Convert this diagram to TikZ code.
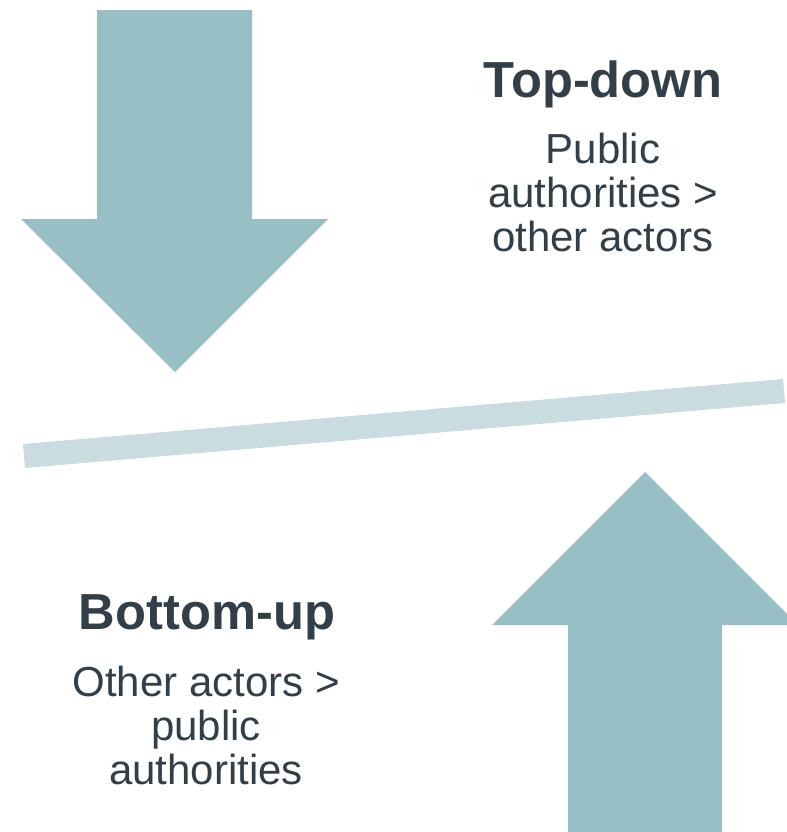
\documentclass[tikz,border=0pt]{standalone}
\usepackage{fontspec}
\setmainfont{Liberation Sans}
\usepackage{tikz}
\usetikzlibrary{positioning}

\definecolor{arrowteal}{HTML}{99BFC6}
\definecolor{barteal}{HTML}{C9DCE0}
\definecolor{slatetext}{HTML}{333F48}

\tikzset{
    bigarrow/.style={fill=arrowteal, draw=none},
    titletext/.style={anchor=base, text=slatetext, inner sep=0pt, font=\fontsize{38}{45}\selectfont\bfseries},
    bodytext/.style={anchor=base, text=slatetext, inner sep=0pt, align=center, font=\fontsize{31.5}{33}\selectfont}
}

\begin{document}
\begin{tikzpicture}[x=0.75pt, y=-0.75pt]
        \useasboundingbox (0,0) rectangle (787,832);
        \clip (0,0) rectangle (787,832);

        \fill[white] (0,0) rectangle (787,832);

        \fill[bigarrow] (97,10) -- (252,10) -- (252,219) -- (328,219) -- (175,372)
            -- (21,219) -- (97,219) -- cycle;

        \draw[barteal, line width=18pt] (24,456) -- (784,391);

        \fill[bigarrow] (645,472) -- (798,625) -- (722,625) -- (722,832) -- (568,832)
            -- (568,625) -- (492,625) -- cycle;

        % base of a multi-line node is its last line
        \node[titletext] (topdown) at (603,97) {Top-down};
        \node[bodytext] (topdowntext) at (603,251) {Public\\ authorities >\\ other actors};

        \node[titletext] (bottomup) at (207,629) {Bottom-up};
        \node[bodytext] (bottomuptext) at (206,784) {Other actors >\\ public\\ authorities};
\end{tikzpicture}
\end{document}
